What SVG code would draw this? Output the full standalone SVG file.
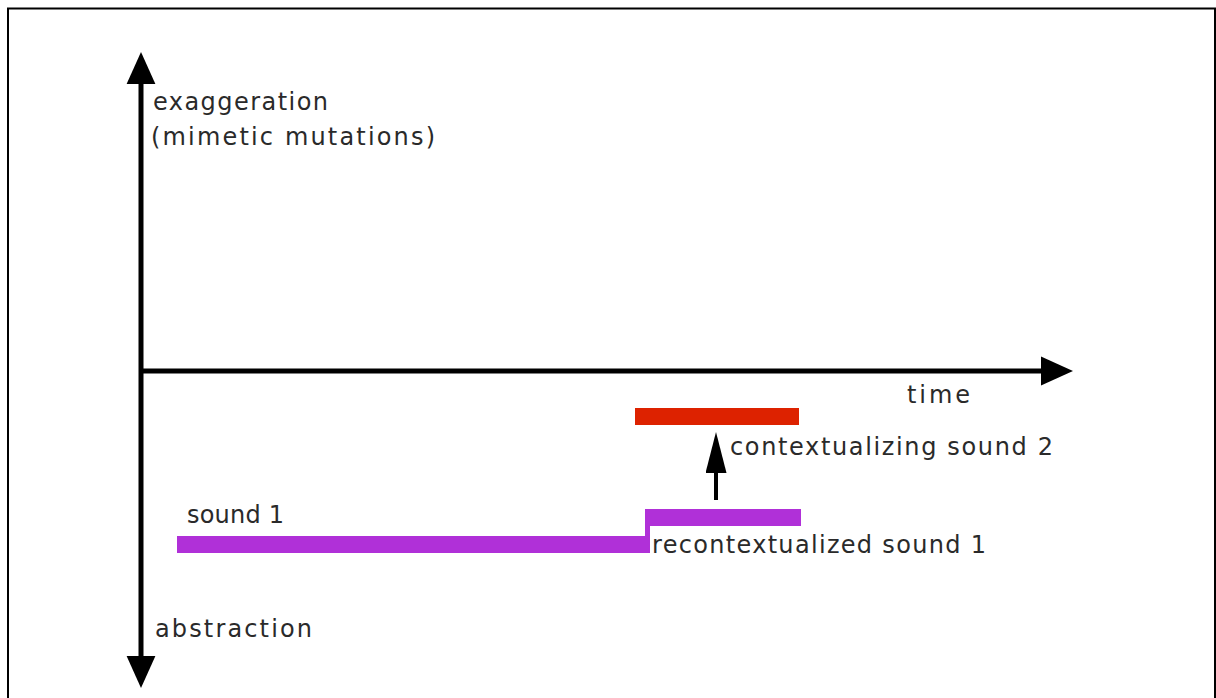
<svg xmlns="http://www.w3.org/2000/svg" width="1216" height="698" viewBox="0 0 1216 698">
<style>
text{font-family:"DejaVu Sans","Liberation Sans",sans-serif;font-size:24px;fill:#2a2a2a}
.axis{stroke:#000;stroke-width:5;fill:none}
</style>
<defs>
<marker id="ah" markerUnits="userSpaceOnUse" markerWidth="32" markerHeight="30" refX="0" refY="13.5" orient="auto" viewBox="0 0 30 27">
<path d="M0,0 L30,13.5 L0,27 Z" fill="#000"/>
</marker>
<marker id="ahs" markerUnits="userSpaceOnUse" markerWidth="41" markerHeight="21" refX="0" refY="10.5" orient="auto" viewBox="0 0 41 21">
<path d="M0,0 L41,10.5 L0,21 Z" fill="#000"/>
</marker>
</defs>
<rect x="8" y="8.5" width="1207" height="720" fill="#fff" stroke="#000" stroke-width="2"/>
<g id="connectors">
<line class="axis" x1="141" y1="371" x2="141" y2="84" marker-end="url(#ah)"/>
<line class="axis" x1="141" y1="371" x2="141" y2="656" marker-end="url(#ah)"/>
<line class="axis" x1="139" y1="371" x2="1041" y2="371" marker-end="url(#ah)"/>
<line x1="716" y1="500" x2="716" y2="473" stroke="#000" stroke-width="4" marker-end="url(#ahs)"/>
</g>
<g id="sound1">
<polygon points="177,536 645,536 645,509 801,509 801,526 650,526 650,553 177,553" fill="#b030d8"/>
<text x="187" y="523" textLength="97" lengthAdjust="spacing">sound 1</text>
<text x="652" y="553" textLength="334" lengthAdjust="spacing">recontextualized sound 1</text>
</g>
<g id="sound2">
<rect x="635" y="408" width="164" height="17" fill="#dd2200"/>
<text x="730" y="455" textLength="323" lengthAdjust="spacing">contextualizing sound 2</text>
</g>
<g id="labels">
<text x="153" y="110" textLength="175" lengthAdjust="spacing">exaggeration</text>
<text x="151" y="145" textLength="284" lengthAdjust="spacing">(mimetic mutations)</text>
<text x="907" y="403" textLength="63" lengthAdjust="spacing">time</text>
<text x="155" y="637" textLength="157" lengthAdjust="spacing">abstraction</text>
</g>
</svg>
